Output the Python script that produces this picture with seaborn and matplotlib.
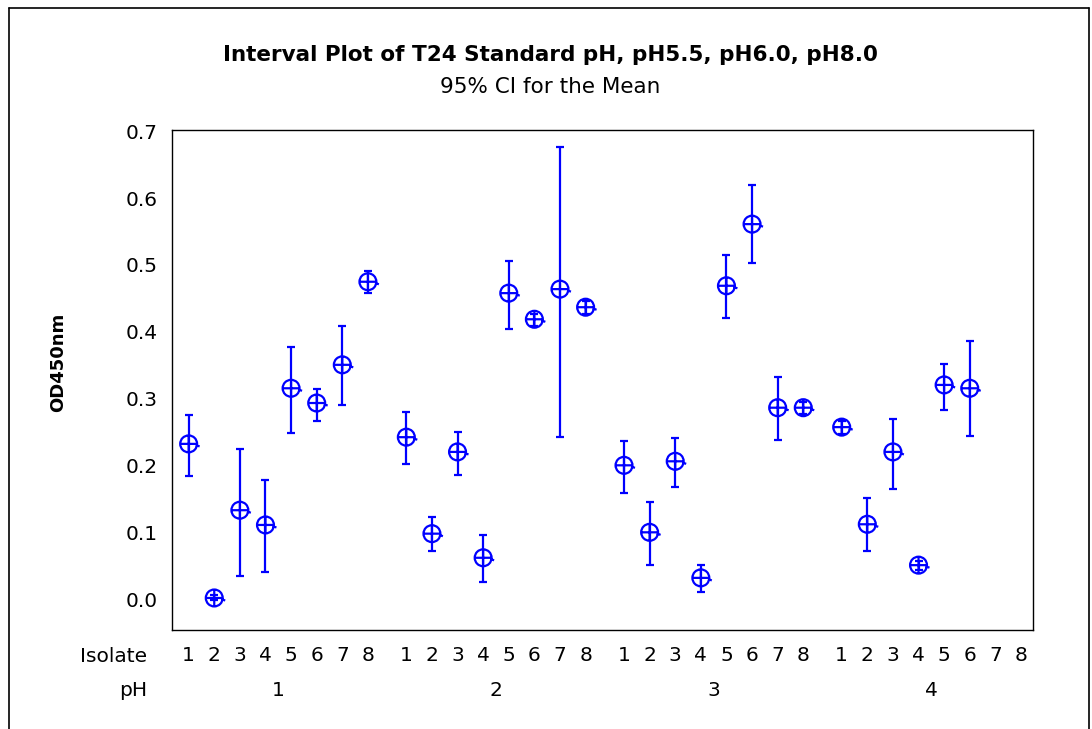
import numpy as np
import pandas as pd
import matplotlib
matplotlib.use("Agg")
import matplotlib.pyplot as plt
from matplotlib.path import Path
from matplotlib.lines import Line2D
import matplotlib.transforms as mtransforms
import seaborn as sns

# ---- data ----
ph_groups = [1, 2, 3, 4]
isolates = [1, 2, 3, 4, 5, 6, 7, 8]

mean_ph1 = [0.233, 0.003, 0.134, 0.112, 0.316, 0.294, 0.351, 0.475]
lo_ph1   = [0.185, 0.000, 0.036, 0.042, 0.249, 0.267, 0.291, 0.458]
hi_ph1   = [0.276, 0.007, 0.225, 0.179, 0.378, 0.315, 0.409, 0.491]

mean_ph2 = [0.243, 0.099, 0.221, 0.063, 0.458, 0.419, 0.464, 0.437]
lo_ph2   = [0.203, 0.073, 0.187, 0.027, 0.404, 0.409, 0.243, 0.427]
hi_ph2   = [0.281, 0.124, 0.251, 0.097, 0.506, 0.427, 0.676, 0.446]

mean_ph3 = [0.201, 0.101, 0.207, 0.033, 0.469, 0.561, 0.287, 0.287]
lo_ph3   = [0.160, 0.052, 0.169, 0.012, 0.421, 0.503, 0.239, 0.278]
hi_ph3   = [0.237, 0.146, 0.242, 0.052, 0.515, 0.619, 0.333, 0.296]

mean_ph4 = [0.258, 0.113, 0.221, 0.052, 0.321, 0.316, np.nan, np.nan]
lo_ph4   = [0.248, 0.073, 0.166, 0.045, 0.284, 0.245, np.nan, np.nan]
hi_ph4   = [0.267, 0.152, 0.270, 0.058, 0.352, 0.387, np.nan, np.nan]

title = "Interval Plot of T24 Standard pH, pH5.5, pH6.0, pH8.0"
subtitle = "95% CI for the Mean"
ylabel = "OD450nm"

means = [mean_ph1, mean_ph2, mean_ph3, mean_ph4]
los = [lo_ph1, lo_ph2, lo_ph3, lo_ph4]
his = [hi_ph1, hi_ph2, hi_ph3, hi_ph4]

rows = []
for gi, g in enumerate(ph_groups):
    for ii, iso in enumerate(isolates):
        rows.append(dict(pH=g, Isolate=iso, pos=gi * 8.5 + ii,
                         mean=means[gi][ii], lo=los[gi][ii], hi=his[gi][ii]))
df = pd.DataFrame(rows)

# ---- style ----
sns.set_theme(style="white")
plt.rcParams['font.family'] = ['DejaVu Sans']
plt.rcParams['text.color'] = 'black'
BLUE = (0, 0, 1)
FS = 14.5

fig = plt.figure(figsize=(10.92, 7.29), dpi=100)
ax = fig.add_axes([172/1092, 1 - 630/729, (1033 - 172)/1092, 500/729])

# custom marker: circle with cross and a small tail
circ = Path.unit_circle()
verts = list(circ.vertices) + [(-1, 0), (1, 0), (0, -1), (0, 1), (0.85, -0.15), (1.3, -0.3)]
codes = list(circ.codes) + [Path.MOVETO, Path.LINETO, Path.MOVETO, Path.LINETO, Path.MOVETO, Path.LINETO]
marker = Path(verts, codes)

d = df.dropna()
ax.errorbar(d["pos"], d["mean"], yerr=[d["mean"] - d["lo"], d["hi"] - d["mean"]],
            fmt="none", ecolor=BLUE, elinewidth=1.6, capsize=3, capthick=1.6, zorder=2)
sns.scatterplot(data=d, x="pos", y="mean", marker=marker, s=250, facecolors="none",
                edgecolor=BLUE, color=BLUE, linewidth=1.6, ax=ax, zorder=3, legend=False)

ax.set_xlim(-0.65, 32.97)
ax.set_ylim(-0.0448, 0.7015)
ax.set_yticks(np.arange(0, 0.71, 0.1))
ax.set_yticklabels([f"{v:.1f}" for v in np.arange(0, 0.71, 0.1)], fontsize=FS)
ax.set_xticks(df["pos"])
ax.set_xticklabels([str(i) for i in df["Isolate"]], fontsize=FS)
ax.tick_params(axis="both", direction="out", length=5, width=1, color="black", labelcolor="black")
ax.tick_params(axis="x", pad=6.5)
ax.tick_params(axis="y", pad=5)
ax.set_xlabel("")
ax.set_ylabel("")
for sp in ax.spines.values():
    sp.set_color("black")
    sp.set_linewidth(1.0)
    sp.set_visible(True)

# pH group labels
trans = mtransforms.blended_transform_factory(ax.transData, ax.transAxes)
for gi, g in enumerate(ph_groups):
    ax.text(gi * 8.5 + 3.5, -0.12, str(g), transform=trans, ha="center", va="center",
            fontsize=FS, color="black")

fig.text(147/1092, 1 - 656/729, "Isolate", ha="right", va="center", fontsize=FS, color="black")
fig.text(147/1092, 1 - 690/729, "pH", ha="right", va="center", fontsize=FS, color="black")

fig.text(58/1092, 1 - 362/729, ylabel, rotation=90, ha="center", va="center",
         fontsize=13, fontweight="bold", color="black")
fig.text(550/1092, 1 - 55/729, title, ha="center", va="center", fontsize=15.5,
         fontweight="bold", color="black")
fig.text(550/1092, 1 - 87/729, subtitle, ha="center", va="center", fontsize=15.5, color="black")

# outer frame
fig.add_artist(Line2D([9/1092, 9/1092], [0, 1 - 8/729], color="black", lw=1.2, transform=fig.transFigure))
fig.add_artist(Line2D([9/1092, 1089/1092], [1 - 8/729, 1 - 8/729], color="black", lw=1.2, transform=fig.transFigure))
fig.add_artist(Line2D([1089/1092, 1089/1092], [0, 1 - 8/729], color="black", lw=1.2, transform=fig.transFigure))

fig.savefig("out.png", dpi=100, facecolor="white")
